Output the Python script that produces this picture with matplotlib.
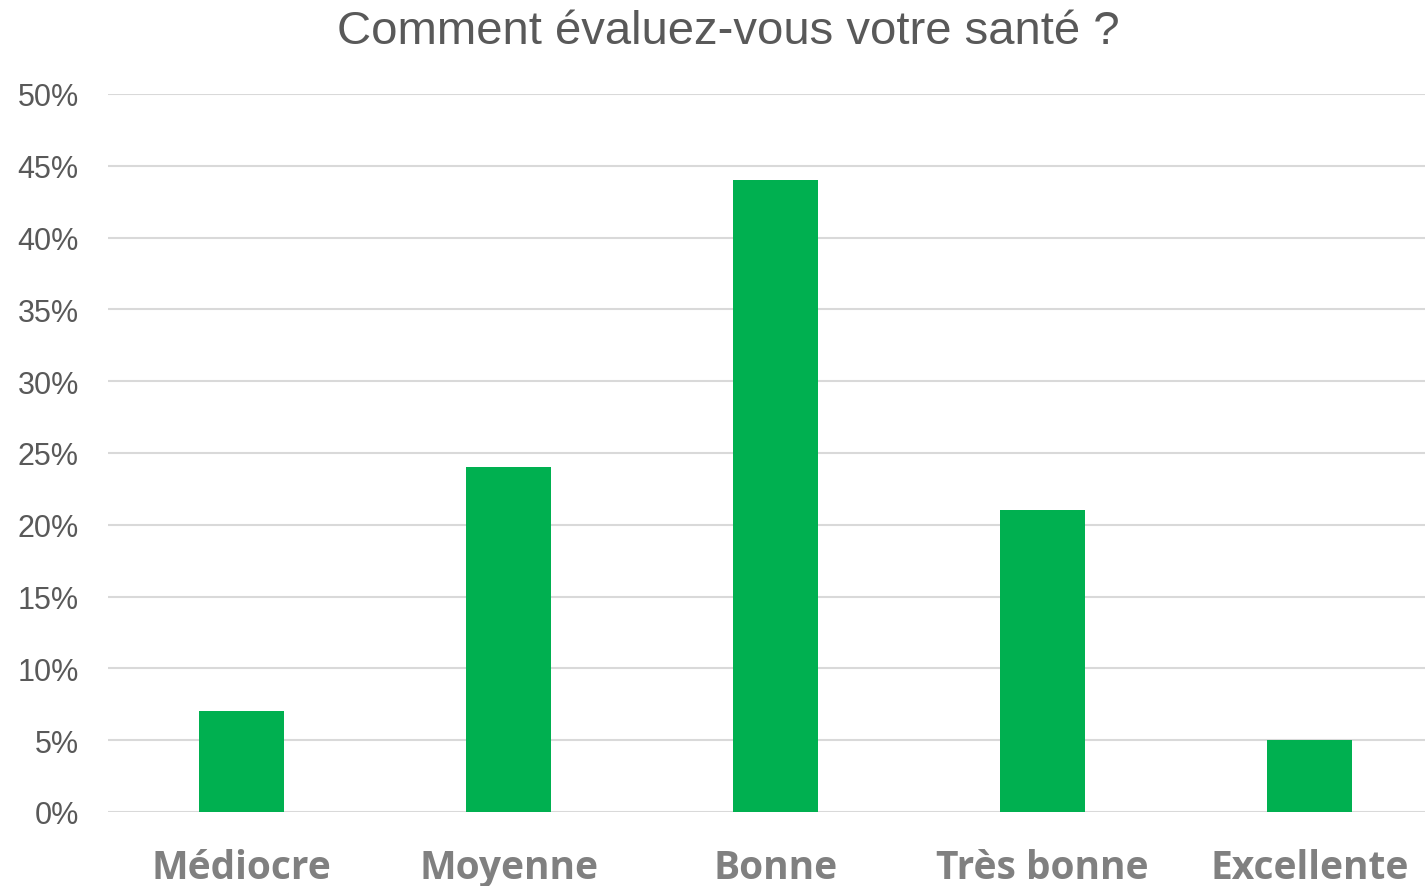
import matplotlib
matplotlib.use("Agg")
import matplotlib.pyplot as plt
from matplotlib.ticker import FuncFormatter, MultipleLocator

categories = ["Médiocre", "Moyenne", "Bonne", "Très bonne", "Excellente"]
values = [0.07, 0.24, 0.44, 0.21, 0.05]
title = "Comment évaluez-vous votre santé ?"

fig = plt.figure(figsize=(14.25, 8.87), dpi=100)
ax = fig.add_axes([108/1425, 74/887, (1443-108)/1425, (792-74)/887])

x = list(range(len(categories)))
ax.bar(x, values, width=0.32, color="#00B050", zorder=3)
ax.set_xlim(-0.5, len(categories) - 0.5)
ax.set_ylim(0, 0.5)
ax.yaxis.set_major_locator(MultipleLocator(0.05))
ax.yaxis.set_major_formatter(FuncFormatter(lambda v, p: f"{v*100:.0f}%"))
ax.grid(axis="y", color="#d9d9d9", linewidth=1.5, zorder=0)
for s in ax.spines.values():
    s.set_visible(False)
ax.set_xticks(x)
ax.set_xticklabels(categories, fontsize=28, fontweight="bold", color="#808080", family="Open Sans")
ax.tick_params(axis="x", length=0, pad=26)
ax.tick_params(axis="y", length=0, pad=21, labelsize=22, labelcolor="#595959")
for lab in ax.get_yticklabels():
    lab.set_family("Liberation Sans")
ax.set_axisbelow(True)

fig.text(728.5/1425, 1 - 32/887, title, ha="center", va="center", fontsize=34,
         color="#595959", family="Liberation Sans")

fig.savefig("out.png", dpi=100)
